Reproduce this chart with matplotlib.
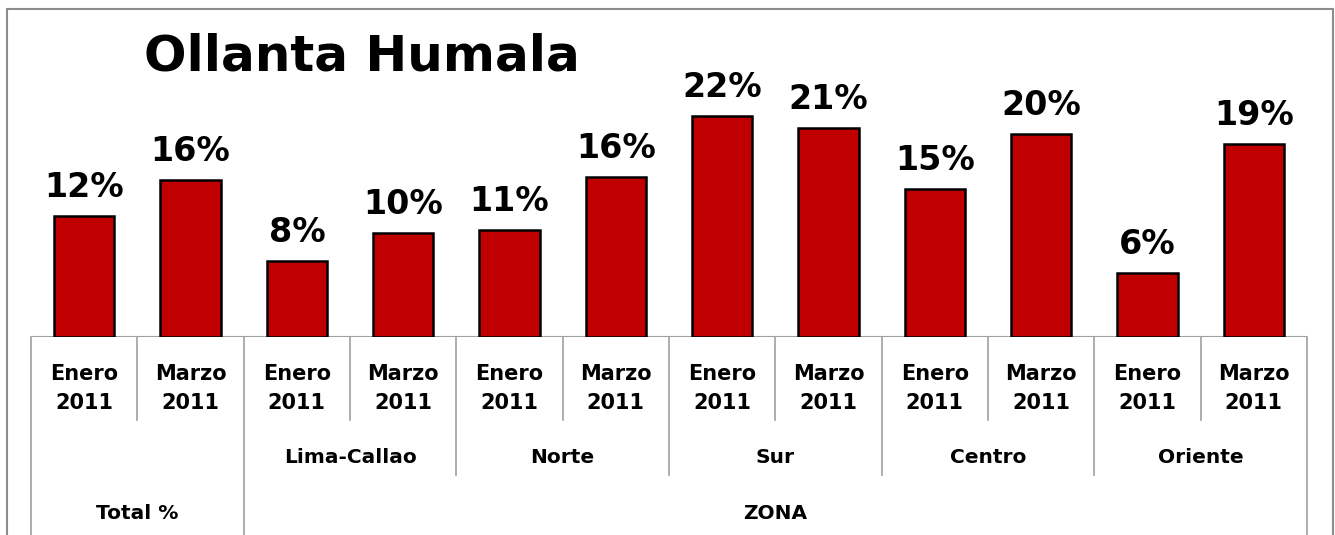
import matplotlib.pyplot as plt
from matplotlib.patches import Rectangle

# values (percent)
periodos = ["Enero\n2011", "Marzo\n2011"] * 6
valores = [12.0, 15.6, 7.6, 10.3, 10.6, 15.9, 22.0, 20.8, 14.7, 20.2, 6.4, 19.2]
zonas = ["", "Lima-Callao", "Norte", "Sur", "Centro", "Oriente"]
bloques = ["Total %", "ZONA"]
titulo = "Ollanta Humala"

plt.rcParams["font.family"] = ["DejaVu Sans"]
plt.rcParams["font.weight"] = "bold"

fig = plt.figure(figsize=(13.35, 5.35), dpi=100)
ax = fig.add_axes([31 / 1335, 1 - 337 / 535, 1276 / 1335, 300 / 535])

x = list(range(len(valores)))
bars = ax.bar(x, valores, width=0.57, color="#C00000", edgecolor="black",
              linewidth=1.8, zorder=3)
for b, v in zip(bars, valores):
    ax.text(b.get_x() + b.get_width() / 2, v + 1.2, f"{round(v)}%",
            ha="center", va="bottom", fontsize=24, fontweight="heavy")

ax.set_xlim(-0.5, len(valores) - 0.5)
ax.set_ylim(0, 29.85)
ax.axis("off")
ax.axhline(0, color="#A0A0A0", linewidth=1.5, zorder=2)

gris = "#A0A0A0"
tr = ax.get_xaxis_transform()
# separators of the category table
for i in range(len(valores) + 1):
    xs = i - 0.5
    if i in (0, 2, len(valores)):
        y_end = -0.7
    elif i % 2 == 0:
        y_end = -0.46
    else:
        y_end = -0.277
    ax.plot([xs, xs], [0, y_end], color=gris, linewidth=1.2,
            transform=tr, clip_on=False)

for i, p in enumerate(periodos):
    ax.text(i, -0.172, p, transform=tr, ha="center", va="center",
            fontsize=15, fontweight="bold", linespacing=1.55)

for g, z in enumerate(zonas):
    if z:
        ax.text(2 * g + 0.5, -0.403, z, transform=tr, ha="center",
                va="center", fontsize=14.5, fontweight="bold")

ax.text(0.5, -0.587, bloques[0], transform=tr, ha="center", va="center",
        fontsize=14.5, fontweight="bold")
ax.text(6.5, -0.587, bloques[1], transform=tr, ha="center", va="center",
        fontsize=14.5, fontweight="bold")

fig.text(362 / 1335, 1 - 57 / 535, titulo, ha="center", va="center",
         fontsize=36, fontweight="bold")

# outer chart border
fig.patches.append(Rectangle((7 / 1335, -0.1), 1326 / 1335, 1.1 - 9 / 535,
                             transform=fig.transFigure, fill=False,
                             edgecolor="#8C8C8C", linewidth=1.5))

fig.savefig("out.png", dpi=100)
